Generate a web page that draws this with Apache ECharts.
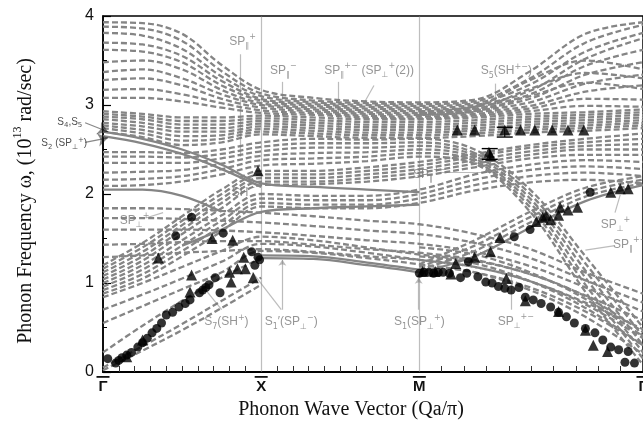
<!DOCTYPE html>
<html>
<head>
<meta charset="utf-8">
<script src="https://cdn.jsdelivr.net/npm/echarts@6/dist/echarts.min.js"></script>
<style>
html,body{margin:0;padding:0;background:#fff;}
#chart{width:643px;height:435px;}
</style>
</head>
<body>
<div id="chart"></div>
<script>
// Wave-vector nodes along the path Γ – X – M – Γ (units of π/a, M–Γ has length √2)
const kNodes = [0, 0.25, 0.5, 0.75, 1, 1.33, 1.67, 2, 2.35, 2.7, 3.05, 3.414];
const zoneTicks = [0, 1, 2, 3.414];
const zoneNames = ['Γ', 'X', 'M', 'Γ'];
const freqTicks = [0, 1, 2, 3, 4];

// Bulk phonon bands (dashed), frequency in 10^13 rad/s at each node
const upperBands = [
  [3.93,3.92,3.80,3.45,3.17,3.08,3.04,3.03,3.06,3.38,3.80,3.93],
  [3.88,3.86,3.72,3.38,3.13,3.05,3.02,3.01,3.04,3.30,3.70,3.90],
  [3.81,3.78,3.63,3.32,3.10,3.03,3.00,2.99,3.02,3.23,3.60,3.81],
  [3.70,3.68,3.55,3.27,3.07,3.01,2.98,2.97,3.00,3.16,3.52,3.75],
  [3.62,3.60,3.48,3.22,3.05,2.99,2.96,2.95,2.98,3.12,3.44,3.62],
  [3.48,3.50,3.40,3.17,3.02,2.97,2.94,2.93,2.96,3.07,3.34,3.48],
  [3.37,3.40,3.30,3.12,3.00,2.95,2.92,2.91,2.94,3.03,3.24,3.34],
  [3.28,3.30,3.22,3.07,2.97,2.93,2.90,2.89,2.92,2.99,3.15,3.22],
  [3.17,3.18,3.12,3.02,2.94,2.91,2.88,2.87,2.90,2.96,3.07,3.06],
  [3.08,3.08,3.04,2.97,2.91,2.89,2.86,2.85,2.88,2.93,2.99,2.98]
];
const domeBands = [
  [null,null,null,null,null,null,null,2.93,2.98,3.28,3.50,3.40],
  [null,null,null,null,null,null,null,2.91,2.95,3.18,3.36,3.30],
  [null,null,null,null,null,null,null,2.89,2.93,3.10,3.25,3.18]
];
const combBands = [
  [2.93,2.90,2.86,2.86,2.88,2.86,2.84,2.84,2.86,2.90,2.92,2.95],
  [2.90,2.87,2.82,2.82,2.85,2.83,2.81,2.81,2.83,2.87,2.89,2.92],
  [2.87,2.84,2.78,2.78,2.82,2.80,2.78,2.78,2.80,2.84,2.86,2.89],
  [2.84,2.80,2.74,2.74,2.79,2.77,2.75,2.75,2.77,2.81,2.83,2.86],
  [2.80,2.76,2.70,2.70,2.76,2.74,2.72,2.72,2.74,2.78,2.80,2.83],
  [2.77,2.72,2.65,2.66,2.73,2.71,2.69,2.69,2.71,2.75,2.77,2.80],
  [2.74,2.68,2.60,2.62,2.70,2.68,2.66,2.66,2.68,2.72,2.74,2.77],
  [2.70,2.64,2.55,2.58,2.67,2.65,2.63,2.63,2.65,2.69,2.71,2.74]
];
const midBands = [
  [2.47,2.47,2.46,2.50,2.58,2.62,2.61,2.62,2.50,2.05,1.30,0.50],
  [2.42,2.42,2.41,2.45,2.53,2.57,2.57,2.58,2.46,2.00,1.22,0.40],
  [2.35,2.35,2.35,2.40,2.48,2.52,2.52,2.54,2.43,1.95,1.14,0.30],
  [2.24,2.25,2.27,2.34,2.43,2.46,2.47,2.50,2.40,1.90,1.06,0.22],
  [2.16,2.17,2.20,2.28,2.38,2.40,2.42,2.46,2.37,1.85,0.98,0.15],
  [2.09,2.10,2.14,2.22,2.32,2.34,2.37,2.42,2.34,1.80,0.90,0.08]
];
const risingBands = [
  [1.20,1.45,1.75,2.05,2.26,2.26,2.30,2.36,2.45,2.55,2.62,2.68],
  [1.16,1.40,1.70,2.00,2.22,2.22,2.26,2.32,2.42,2.52,2.58,2.62],
  [1.12,1.35,1.65,1.95,2.18,2.18,2.22,2.28,2.38,2.48,2.54,2.56],
  [1.08,1.30,1.60,1.90,2.14,2.14,2.18,2.24,2.34,2.44,2.50,2.50],
  [1.04,1.25,1.55,1.84,2.10,2.11,2.14,2.20,2.30,2.40,2.44,2.44],
  [1.00,1.20,1.48,1.76,2.00,1.98,1.98,2.05,2.22,2.33,2.38,2.36],
  [0.96,1.15,1.42,1.70,1.95,1.93,1.93,2.00,2.16,2.27,2.31,2.28],
  [0.92,1.10,1.36,1.64,1.90,1.88,1.88,1.95,2.10,2.20,2.24,2.20],
  [0.88,1.05,1.30,1.58,1.86,1.84,1.84,1.90,2.04,2.13,2.16,2.12]
];
const flatBands = [
  [1.84,1.84,1.83,1.81,1.79,1.75,1.70,1.66,1.55,1.38,1.12,0.88],
  [1.73,1.73,1.72,1.70,1.68,1.64,1.59,1.55,1.45,1.28,1.03,0.78],
  [1.60,1.60,1.60,1.59,1.57,1.53,1.48,1.44,1.35,1.19,0.95,0.68],
  [1.43,1.44,1.46,1.47,1.47,1.43,1.38,1.34,1.26,1.10,0.86,0.58],
  [1.29,1.31,1.34,1.36,1.38,1.35,1.30,1.26,1.18,1.02,0.78,0.48]
];
const lowerBands = [
  [0.84,1.00,1.18,1.36,1.52,1.48,1.40,1.32,1.25,1.10,0.85,0.45],
  [0.70,0.87,1.05,1.24,1.44,1.41,1.34,1.26,1.18,1.02,0.76,0.38],
  [0.55,0.74,0.93,1.12,1.36,1.34,1.28,1.21,1.12,0.95,0.68,0.30]
];
const acousticBands = [
  [0.02,0.24,0.47,0.72,0.98,null,null,null,null,null,null,null],
  [0.05,0.29,0.54,0.80,1.06,null,null,null,null,null,null,null],
  [0.22,0.52,0.80,1.06,1.28,null,null,null,null,null,null,null]
];
const edgeBands = [
  [null,null,null,null,null,null,null,1.20,1.12,0.92,0.62,0.20],
  [null,null,null,null,null,null,null,1.30,1.22,1.02,0.72,0.30],
  [null,null,null,null,null,null,null,1.40,1.32,1.12,0.82,0.40]
];
const branchBands = [
  [null,null,null,null,null,null,null,1.15,1.36,1.68,1.97,2.12],
  [null,null,null,null,null,null,null,1.18,1.42,1.74,2.02,2.16],
  [null,null,null,null,null,null,null,1.21,1.48,1.80,2.07,2.20]
];

// Surface modes (solid)
const surfaceModes = [
  [2.70,2.62,2.50,2.33,2.12,2.08,2.05,2.02,null,null,null,null],
  [2.65,2.57,2.45,2.28,2.08,null,null,null,null,null,null,null],
  [2.05,2.05,1.98,1.80,null,null,null,null,null,null,null,null],
  [null,null,1.42,1.60,1.80,1.84,1.86,1.88,null,null,null,null],
  [null,null,null,null,1.28,1.27,1.20,1.12,null,null,null,null],
  [null,null,null,null,1.31,1.30,1.23,1.15,null,null,null,null],
  [null,null,null,null,null,null,null,1.12,1.30,1.62,1.92,2.10]
];

// Measured phonons
const circles = [
  [0.03,0.15],[0.08,0.10],[0.10,0.13],[0.12,0.16],[0.15,0.19],[0.18,0.22],[0.22,0.28],
  [0.25,0.33],[0.28,0.38],[0.31,0.44],[0.34,0.49],[0.37,0.55],[0.40,0.64],[0.44,0.67],
  [0.48,0.73],[0.52,0.77],[0.55,0.81],[0.61,0.89],[0.63,0.92],[0.65,0.95],[0.67,0.98],
  [0.71,1.06],[0.74,0.89],[0.94,1.35],[0.98,1.29],[0.96,1.20],[0.99,1.26],
  [0.46,1.53],[0.56,1.74],[0.76,1.56],
  [2.00,1.11],[2.03,1.12],[2.06,1.12],[2.09,1.11],[2.12,1.12],[2.15,1.12],[2.19,1.11],
  [2.26,1.06],[2.30,1.11],[2.37,1.07],[2.42,1.01],[2.46,1.00],[2.50,0.96],[2.54,0.94],
  [2.58,0.92],[2.63,0.95],[2.67,0.84],[2.72,0.81],[2.77,0.77],[2.83,0.73],[2.88,0.67],
  [2.93,0.62],[2.98,0.55],[3.05,0.49],[3.11,0.44],[3.16,0.36],[3.21,0.28],[3.26,0.25],
  [3.32,0.23],[3.30,0.11],[3.36,0.10],
  [2.31,1.24],[2.60,1.52],[2.70,1.60],[3.08,2.02]
];
const triangles = [
  [0.15,0.17],[0.25,0.36],[0.35,1.28],[0.55,0.90],[0.56,1.09],[0.69,1.50],[0.82,1.48],
  [0.80,1.12],[0.81,1.01],[0.85,1.16],[0.90,1.16],[0.89,1.29],[0.95,1.06],[0.98,2.26],
  [2.02,1.13],[2.10,1.13],[2.20,1.10],[2.55,1.05],[2.67,0.80],[2.88,0.68],[3.05,0.47],
  [3.10,0.30],[3.19,0.23],
  [2.23,1.22],[2.35,1.29],[2.45,1.35],[2.51,1.51],[2.74,1.69],[2.78,1.74],[2.80,1.76],
  [2.83,1.71],[2.88,1.76],[2.89,1.85],[2.94,1.82],[3.00,1.85],[3.21,2.02],[3.27,2.06],[3.32,2.06],
  [2.24,2.72],[2.35,2.72],[2.54,2.72],[2.64,2.72],[2.73,2.72],[2.84,2.72],[2.94,2.72],[3.04,2.72],
  [2.44,2.47],[2.45,2.43]
];
const errorBars = [
  [2.54, 2.64, 2.75],
  [2.445, 2.39, 2.51]
];

// Mode labels: [x, y, text]
const modeLabels = [
  [0.882, 3.71, '{b|SP}{sub|∥}{sup|+}'],
  [1.14, 3.39, '{b|SP}{sub|∥}{sup|−}'],
  [1.505, 3.39, '{b|SP}{sub|∥}{sup|+−}'],
  [1.80, 3.39, '{b|(SP}{sub|⊥}{sup|+}{b|(2))}'],
  [2.55, 3.38, '{b|S}{sub|5}{b|(SH}{sup|+−}{b|)}'],
  [2.065, 2.22, '{b|SP}{sub|∥}{sup|+−}'],
  [0.888, 2.02, '{b|SH}{sup|−}'],
  [0.20, 1.70, '{b|SP}{sub|⊥}{sup|+}'],
  [0.78, 0.56, '{b|S}{sub|7}{b|(SH}{sup|+}{b|)}'],
  [1.19, 0.56, '{b|S}{sub|1}{b|′(SP}{sub|⊥}{sup|−}{b|)}'],
  [2.0, 0.56, '{b|S}{sub|1}{b|(SP}{sub|⊥}{sup|+}{b|)}'],
  [2.61, 0.57, '{b|SP}{sub|⊥}{sup|+−}'],
  [3.24, 1.66, '{b|SP}{sub|⊥}{sup|+}'],
  [3.33, 1.43, '{b|SP}{sub|∥}{sup|+−}'],
  [-0.21, 2.81, '{k|S}{ks|4}{k|,S}{ks|5}'],
  [-0.245, 2.57, '{k|S}{ks|2}{k| (SP}{ks|⊥}{kp|+}{k|)}']
];
// Leader lines: [x1, y1, x2, y2, arrow]
const leaders = [
  [0.869, 3.57, 0.869, 2.42, 0],
  [1.134, 3.26, 1.134, 2.87, 0],
  [1.486, 3.26, 1.486, 2.66, 0],
  [1.713, 3.22, 1.65, 3.02, 0],
  [2.48, 3.24, 2.48, 2.83, 0],
  [2.135, 2.24, 2.50, 2.24, 0],
  [0.27, 1.73, 0.38, 1.79, 0],
  [0.75, 0.70, 0.65, 0.92, 0],
  [1.134, 0.70, 1.134, 1.26, 1],
  [1.127, 0.70, 0.945, 1.12, 0],
  [1.996, 0.70, 1.996, 1.06, 1],
  [2.58, 0.70, 2.58, 1.24, 0],
  [3.237, 1.79, 3.27, 1.99, 0],
  [3.237, 1.42, 3.05, 1.37, 0],
  [-0.113, 2.80, 0.031, 2.70, 2],
  [-0.113, 2.58, 0.031, 2.63, 2]
];

const GRAY = '#858585';
function toPts(v) {
  return kNodes.map((x, i) => [x, v[i] == null ? '-' : v[i]]);
}
const series = [];
[upperBands, domeBands, combBands, midBands, risingBands, flatBands,
 lowerBands, acousticBands, edgeBands, branchBands].forEach(fam => {
  fam.forEach(v => series.push({
    type: 'line', data: toPts(v), smooth: 0.35, showSymbol: false, silent: true,
    lineStyle: { color: GRAY, width: 2.3, type: [6, 3] }, z: 2
  }));
});
surfaceModes.forEach(v => series.push({
  type: 'line', data: toPts(v), smooth: 0.35, showSymbol: false, silent: true,
  lineStyle: { color: GRAY, width: 2.3, type: 'solid' }, z: 3
}));
// zone-boundary verticals
series.push({
  type: 'lines', coordinateSystem: 'cartesian2d', silent: true, z: 3,
  lineStyle: { color: '#7d7d7d', width: 1.2 },
  data: [{ coords: [[1, 0], [1, 4]] }, { coords: [[2, 0], [2, 4]] }]
});
series.push({
  type: 'lines', coordinateSystem: 'cartesian2d', silent: true, z: 4, clip: false,
  data: leaders.map(l => ({
    coords: [[l[0], l[1]], [l[2], l[3]]],
    symbol: l[4] ? ['none', 'arrow'] : ['none', 'none'],
    symbolSize: l[4] === 2 ? 10 : 6,
    lineStyle: { color: l[4] === 2 ? '#111' : '#7a7a7a', width: 1.2 },
    itemStyle: { color: l[4] === 2 ? '#111' : '#7a7a7a' }
  }))
});
series.push({
  type: 'custom', z: 5, silent: true, clip: false,
  data: errorBars,
  renderItem: (params, api) => {
    const lo = api.coord([api.value(0), api.value(1)]);
    const hi = api.coord([api.value(0), api.value(2)]);
    const w = 8;
    return { type: 'group', children: [
      { type: 'line', shape: { x1: lo[0], y1: lo[1], x2: hi[0], y2: hi[1] }, style: { stroke: '#000', lineWidth: 1.2 } },
      { type: 'line', shape: { x1: lo[0]-w, y1: lo[1], x2: lo[0]+w, y2: lo[1] }, style: { stroke: '#000', lineWidth: 1.4 } },
      { type: 'line', shape: { x1: hi[0]-w, y1: hi[1], x2: hi[0]+w, y2: hi[1] }, style: { stroke: '#000', lineWidth: 1.4 } }
    ]};
  }
});
series.push({
  type: 'scatter', data: circles, symbol: 'circle', symbolSize: 9, z: 6, silent: true,
  itemStyle: { color: '#000' }
});
series.push({
  type: 'scatter', data: triangles, symbol: 'triangle', symbolSize: 11, z: 6, silent: true,
  itemStyle: { color: '#000' }
});
const labelRich = {
  b: { fontSize: 12, color: '#7a7a7a', fontFamily: 'Liberation Sans', lineHeight: 17, verticalAlign: 'middle' },
  sub: { fontSize: 8, color: '#7a7a7a', fontFamily: 'DejaVu Sans', lineHeight: 17, verticalAlign: 'bottom' },
  sup: { fontSize: 8, color: '#7a7a7a', fontFamily: 'DejaVu Sans', lineHeight: 17, verticalAlign: 'top' },
  k: { fontSize: 10, color: '#222', fontFamily: 'Liberation Sans', lineHeight: 14, verticalAlign: 'middle' },
  ks: { fontSize: 7, color: '#222', fontFamily: 'DejaVu Sans', lineHeight: 14, verticalAlign: 'bottom' },
  kp: { fontSize: 7, color: '#222', fontFamily: 'DejaVu Sans', lineHeight: 14, verticalAlign: 'top' }
};
series.push({
  type: 'scatter', z: 7, silent: true, clip: false, symbolSize: 1,
  itemStyle: { color: 'rgba(0,0,0,0)' },
  data: modeLabels.map(m => ({
    value: [m[0], m[1]],
    label: { show: true, position: 'inside', formatter: m[2], rich: labelRich }
  }))
});
// Zone point labels with overbars
series.push({
  type: 'custom', z: 7, silent: true, clip: false,
  data: zoneTicks.map((x, i) => [x, i]),
  renderItem: (params, api) => {
    const p = api.coord([api.value(0), 0]);
    const name = zoneNames[api.value(1)];
    return { type: 'group', children: [
      { type: 'rect', shape: { x: p[0]-6.5, y: p[1]+4, width: 13, height: 1.8 }, style: { fill: '#111' } },
      { type: 'text', x: p[0], y: p[1]+7.5, style: { text: name, font: 'bold 15px "Liberation Sans"', fill: '#111', align: 'center', verticalAlign: 'top', textAlign: 'center', textVerticalAlign: 'top' } }
    ]};
  }
});

const minorK = [];
for (let k = 1; k < 20; k++) if (k !== 10) minorK.push(k / 10);
for (let k = 1; k < 10; k++) minorK.push(2 + k * 0.14142);

const chart = echarts.init(document.getElementById('chart'), null, { renderer: 'canvas' });
chart.setOption({
  animation: false,
  backgroundColor: '#fff',
  grid: { left: 103, top: 16, width: 542, bottom: 63, show: true, borderColor: '#000', borderWidth: 1.5, backgroundColor: 'transparent' },
  xAxis: {
    type: 'value', min: 0, max: 3.414,
    axisLine: { show: true, lineStyle: { color: '#000', width: 2 } },
    axisTick: { show: true, inside: true, length: 6, customValues: minorK, lineStyle: { color: '#333', width: 1 } },
    axisLabel: { show: false },
    splitLine: { show: false }
  },
  yAxis: {
    type: 'value', min: 0, max: 4, interval: 1,
    axisLine: { show: true, lineStyle: { color: '#000', width: 1.5 } },
    axisTick: { show: true, inside: true, length: 8, lineStyle: { color: '#000', width: 1.2 } },
    minorTick: { show: true, splitNumber: 2, length: 4, lineStyle: { color: '#000', width: 1 } },
    axisLabel: { show: true, margin: 9, color: '#111', fontSize: 16, fontFamily: 'Liberation Sans',
      customValues: freqTicks, formatter: v => String(v) },
    splitLine: { show: false }
  },
  graphic: [
    { type: 'text', x: 24, y: 201, rotation: Math.PI / 2,
      style: { text: '{t|Phonon Frequency ω, (10}{s|13}{t| rad/sec)}', align: 'center', verticalAlign: 'middle',
        rich: { t: { fontFamily: 'Liberation Serif', fontSize: 20, fill: '#111', lineHeight: 24, verticalAlign: 'bottom' },
                s: { fontFamily: 'Liberation Serif', fontSize: 12, fill: '#111', lineHeight: 24, verticalAlign: 'top' } } } },
    { type: 'text', x: 351, y: 410,
      style: { text: 'Phonon Wave Vector (Qa/π)', font: '20px "Liberation Serif"', fill: '#111', align: 'center', verticalAlign: 'middle' } }
  ],
  series: series
});
</script>
</body>
</html>
